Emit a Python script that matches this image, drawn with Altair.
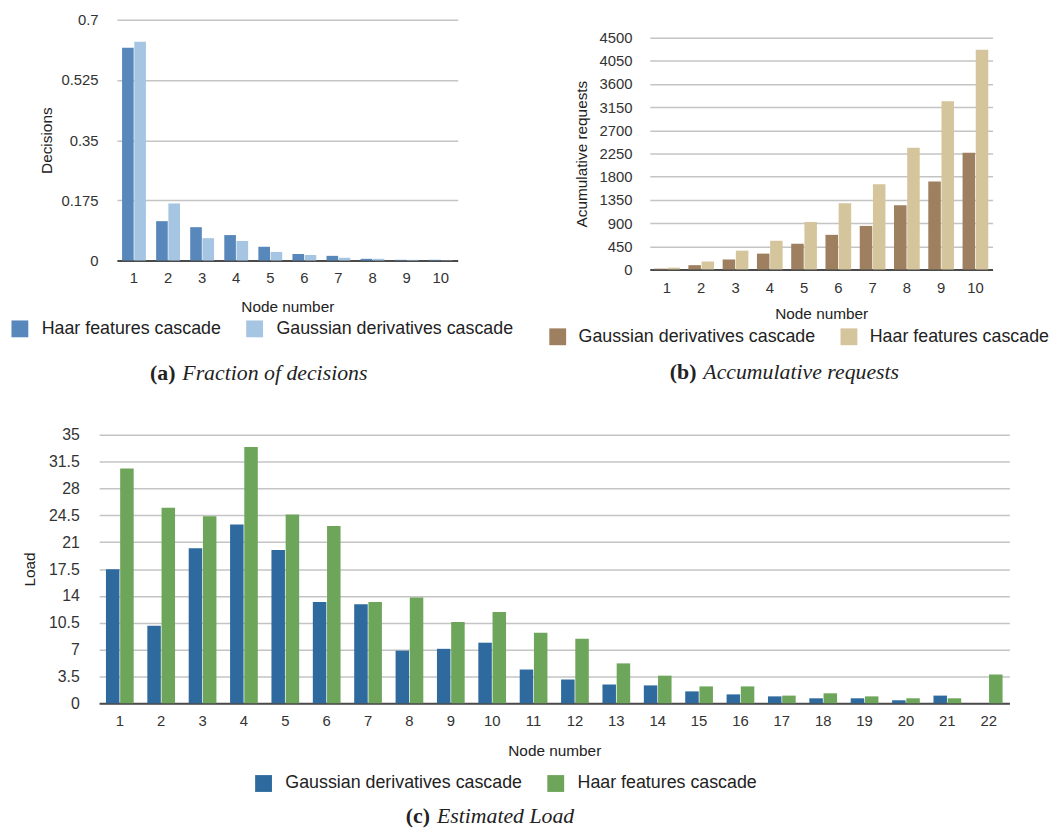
import altair as alt
import pandas as pd

# ---------------- data ----------------
nodes_ab = [str(i) for i in range(1, 11)]
haar_a = [0.619, 0.1145, 0.097, 0.074, 0.040, 0.019, 0.0136, 0.005, 0.002, 0.002]
gauss_a = [0.636, 0.166, 0.065, 0.057, 0.025, 0.016, 0.008, 0.005, 0.002, 0.001]

gauss_b = [15, 83, 192, 307, 499, 672, 845, 1248, 1709, 2266]
haar_b = [35, 154, 365, 557, 922, 1287, 1652, 2362, 3265, 4264]

nodes_c = [str(i) for i in range(1, 23)]
gauss_c = [17.46, 10.1, 20.2, 23.3, 20.0, 13.2, 12.9, 6.86, 7.1, 7.9, 4.4,
           3.1, 2.46, 2.33, 1.55, 1.16, 0.9, 0.65, 0.65, 0.39, 1.0, 0.0]
haar_c = [30.6, 25.5, 24.4, 33.4, 24.6, 23.1, 13.2, 13.8, 10.6, 11.9, 9.2,
          8.4, 5.2, 3.6, 2.2, 2.2, 1.0, 1.3, 0.9, 0.65, 0.65, 3.75]

HAAR = "Haar features cascade"
GAUSS = "Gaussian derivatives cascade"

ticks_a = [0, 0.175, 0.35, 0.525, 0.7]
ticks_b = [0, 450, 900, 1350, 1800, 2250, 2700, 3150, 3600, 4050, 4500]
ticks_c = [0, 3.5, 7, 10.5, 14, 17.5, 21, 24.5, 28, 31.5, 35]


def long_df(nodes, series):
    rows = []
    for name, vals in series:
        for n, v in zip(nodes, vals):
            rows.append({"node": n, "series": name, "value": v})
    return pd.DataFrame(rows)


df_a = long_df(nodes_ab, [(HAAR, haar_a), (GAUSS, gauss_a)])
df_b = long_df(nodes_ab, [(GAUSS, gauss_b), (HAAR, haar_b)])
df_c = long_df(nodes_c, [(GAUSS, gauss_c), (HAAR, haar_c)])

SANS = "Liberation Sans"
SERIF = "Liberation Serif"


def panel(df, nodes, order, colors, width, height, x_range, p_inner, p_outer,
          y_domain, y_values, y_fmt, y_title, y_lab_size, y_lab_pad, y_title_pad,
          x_lab_pad, x_title_pad, legend_x, legend_y, label_offset,
          cap_bold, cap_italic, cap_x, cap_y, title_y=None):
    yaxis_kw = dict(
        title=y_title, values=y_values, format=y_fmt, ticks=False, tickSize=0,
        domain=False, grid=True, gridColor="#c4c4c4", gridWidth=1.5,
        labelFontSize=y_lab_size, labelPadding=y_lab_pad, titleFontSize=15.5,
        titlePadding=y_title_pad,
    )
    if title_y is not None:
        yaxis_kw["titleY"] = title_y
    bars = alt.Chart(df).mark_bar().encode(
        x=alt.X("node:N", sort=nodes,
                scale=alt.Scale(range=x_range, paddingInner=p_inner,
                                paddingOuter=p_outer),
                axis=alt.Axis(title="Node number", labelAngle=0, ticks=False,
                              tickSize=0, grid=False, domainColor="#4a4a4a",
                              domainWidth=2, labelFontSize=15,
                              labelPadding=x_lab_pad, titleFontSize=15.5,
                              titlePadding=x_title_pad)),
        xOffset=alt.XOffset("series:N", sort=order,
                            scale=alt.Scale(domain=order, paddingInner=0.05)),
        y=alt.Y("value:Q", scale=alt.Scale(domain=y_domain, nice=False),
                axis=alt.Axis(**yaxis_kw)),
        color=alt.Color("series:N", sort=order,
                        scale=alt.Scale(domain=order, range=colors),
                        legend=alt.Legend(
                            orient="none", legendX=legend_x, legendY=legend_y,
                            direction="horizontal", title=None,
                            symbolType="square", symbolSize=289,
                            symbolStrokeWidth=0, symbolOpacity=1,
                            labelFont=SANS, labelFontSize=18,
                            labelColor="#222", labelOffset=label_offset,
                            columnPadding=24, labelLimit=500, padding=0)),
    )
    cap = pd.DataFrame({"b": [cap_bold], "i": [cap_italic]})
    bold = alt.Chart(cap).mark_text(
        font=SERIF, fontSize=22, fontWeight="bold", align="right",
        baseline="middle", color="#222",
    ).encode(x=alt.value(cap_x), y=alt.value(cap_y), text="b:N")
    ital = alt.Chart(cap).mark_text(
        font=SERIF, fontSize=22, fontStyle="italic", align="left",
        baseline="middle", color="#222",
    ).encode(x=alt.value(cap_x + 7), y=alt.value(cap_y), text="i:N")
    return alt.layer(bars, bold, ital).properties(width=width, height=height)


chart_a = panel(
    df_a, nodes_ab, [HAAR, GAUSS], ["#5888BB", "#A6C5E2"],
    width=362, height=243, x_range=[18, 362], p_inner=0.3, p_outer=0.15,
    y_domain=[0, 0.7], y_values=ticks_a, y_fmt=".3~f", y_title="Decisions",
    y_lab_size=15, y_lab_pad=1, y_title_pad=7,
    x_lab_pad=10.5, x_title_pad=14, legend_x=-89, legend_y=303, label_offset=13,
    cap_bold="(a)", cap_italic="Fraction of decisions", cap_x=77, cap_y=357,
)

chart_b = panel(
    df_b, nodes_ab, [GAUSS, HAAR], ["#9E7F5F", "#D5C59C"],
    width=346, height=252, x_range=[0, 346], p_inner=0.25, p_outer=0.125,
    y_domain=[0, 4846], y_values=ticks_b, y_fmt="d",
    y_title="Acumulative requests",
    y_lab_size=15, y_lab_pad=18, y_title_pad=10,
    x_lab_pad=11, x_title_pad=11.5, legend_x=-102, legend_y=311,
    label_offset=12,
    cap_bold="(b)", cap_italic="Accumulative requests", cap_x=47, cap_y=356,
    title_y=135,
)

chart_c = panel(
    df_c, nodes_c, [GAUSS, HAAR], ["#2E6A9E", "#6DA55A"],
    width=919, height=271, x_range=[0, 919], p_inner=0.33, p_outer=0.165,
    y_domain=[0, 35], y_values=ticks_c, y_fmt=".1~f", y_title="Load",
    y_lab_size=16, y_lab_pad=20, y_title_pad=11,
    x_lab_pad=10.5, x_title_pad=15.5, legend_x=157, legend_y=343,
    label_offset=13,
    cap_bold="(c)", cap_italic="Estimated Load", cap_x=334, cap_y=385,
)

top = alt.hconcat(chart_a, chart_b, spacing=194, bounds="flush").resolve_scale(
    color="independent", x="independent", y="independent", xOffset="independent")

chart = alt.vconcat(top, chart_c, spacing=43).resolve_scale(
    color="independent", x="independent", y="independent", xOffset="independent"
).properties(
    padding={"left": 3, "top": 1, "right": 0, "bottom": 0}
).configure_view(stroke=None).configure_axis(
    labelFont=SANS, titleFont=SANS, labelColor="#333", titleColor="#222",
    titleFontWeight="normal",
)

chart.save("out.html", embed_options={"renderer": "svg", "actions": False})
